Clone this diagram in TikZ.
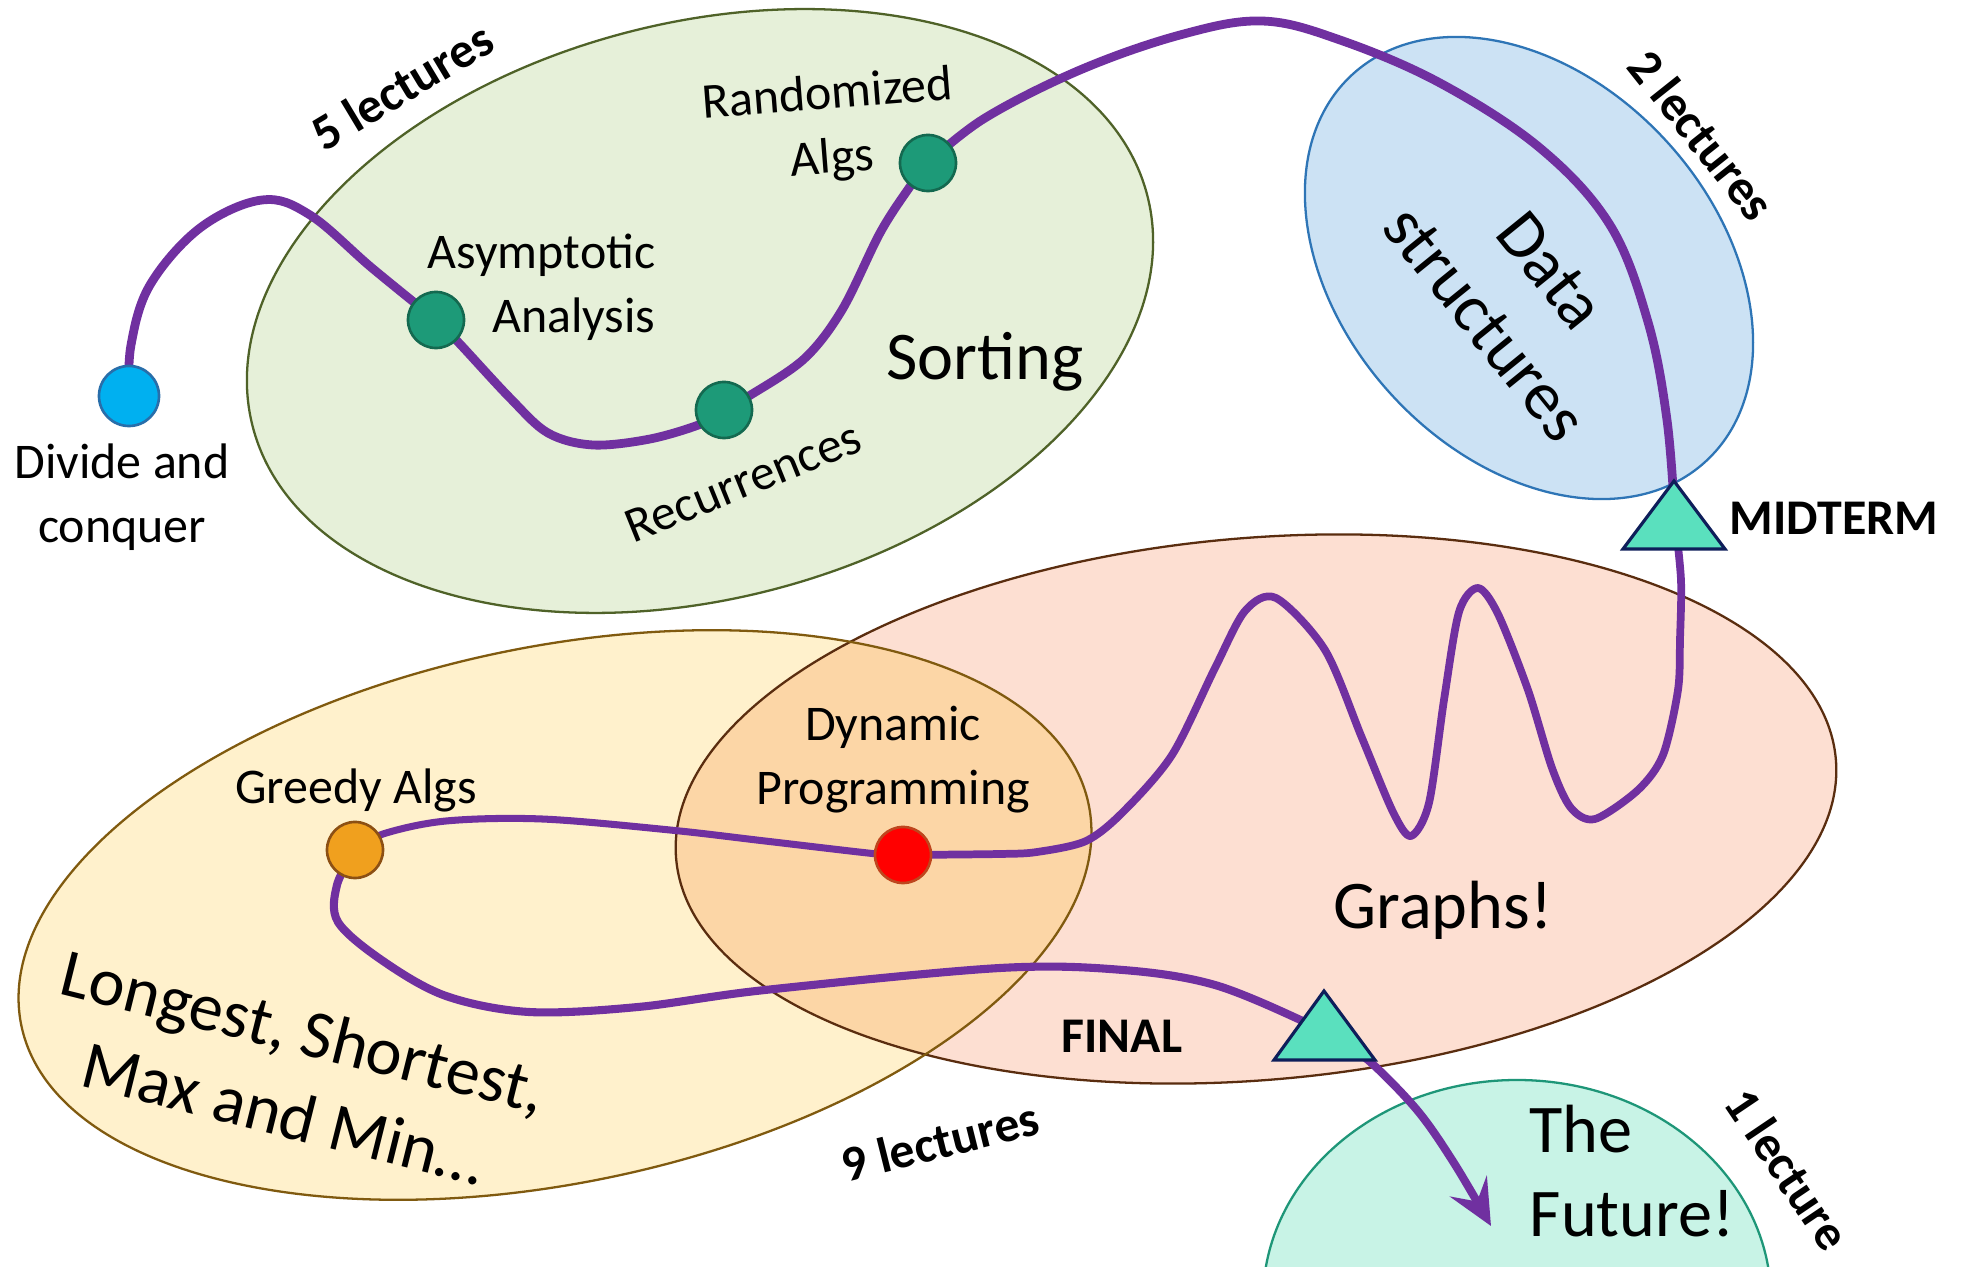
\documentclass[tikz,border=0pt]{standalone}
\usepackage{fontspec}
\setmainfont{Carlito}
\usetikzlibrary{arrows.meta}
\pgfdeclarelayer{bg}
\pgfdeclarelayer{paths}
\pgfsetlayers{bg,paths,main}
\definecolor{pur}{RGB}{112,48,160}
\definecolor{sortF}{RGB}{230,240,217}
\definecolor{sortD}{RGB}{79,98,40}
\definecolor{dsF}{RGB}{204,226,244}
\definecolor{dsD}{RGB}{46,117,182}
\definecolor{grF}{RGB}{253,223,210}
\definecolor{grD}{RGB}{90,45,15}
\definecolor{ylF}{RGB}{255,241,204}
\definecolor{ylD}{RGB}{128,90,15}
\definecolor{ovF}{RGB}{252,214,166}
\definecolor{fuF}{RGB}{200,243,230}
\definecolor{fuD}{RGB}{30,150,120}
\definecolor{dBlue}{RGB}{0,176,240}
\definecolor{dBlueD}{RGB}{40,110,170}
\definecolor{dGreen}{RGB}{29,154,120}
\definecolor{dGreenD}{RGB}{20,105,80}
\definecolor{dOrange}{RGB}{240,160,30}
\definecolor{dOrangeD}{RGB}{140,80,20}
\definecolor{dRed}{RGB}{255,0,0}
\definecolor{dRedD}{RGB}{190,70,30}
\definecolor{triF}{RGB}{90,224,190}
\definecolor{triD}{RGB}{14,30,90}
\begin{document}
\begin{tikzpicture}[x=0.01cm,y=-0.01cm,
  dotnode/.style={circle, inner sep=0pt, minimum size=0.56cm, line width=0.75pt},
  txt/.style={font=\fontsize{14.2}{18.2}\selectfont, inner sep=0pt, align=center},
  bigtxt/.style={font=\fontsize{19.4}{24}\selectfont, inner sep=0pt, align=center},
  lbl/.style={font=\fontsize{14.2}{17}\selectfont\bfseries, inner sep=0pt},
  road/.style={draw=pur, line width=2.5pt, line cap=round, line join=round},
  tri/.style={fill=triF, draw=triD, line width=0.9pt, line join=miter},
  region/.style={line width=0.65pt}
]
\useasboundingbox (0,0) rectangle (1962,1267);

% ---------- regions ----------
\begin{pgfonlayer}{bg}
  \fill[white] (0,0) rectangle (1962,1267);
  \draw[region, fill=sortF, draw=sortD, rotate around={14.5:(700,311)}] (700,311) ellipse [x radius=462, y radius=288];
  \draw[region, fill=dsF, draw=dsD, rotate around={-47.7:(1529,268)}] (1529,268) ellipse [x radius=262, y radius=187];
  \fill[grF, rotate around={4.9:(1256,809)}] (1256,809) ellipse [x radius=582, y radius=271];
  \fill[ylF, rotate around={11.7:(555,915)}] (555,915) ellipse [x radius=545, y radius=268];
  \begin{scope}
    \clip[rotate around={11.7:(555,915)}] (555,915) ellipse [x radius=545, y radius=268];
    \fill[ovF, rotate around={4.9:(1256,809)}] (1256,809) ellipse [x radius=582, y radius=271];
  \end{scope}
  \draw[region, draw=grD, rotate around={4.9:(1256,809)}] (1256,809) ellipse [x radius=582, y radius=271];
  \draw[region, draw=ylD, rotate around={11.7:(555,915)}] (555,915) ellipse [x radius=545, y radius=268];
  \draw[region, fill=fuF, draw=fuD] (1517,1300) ellipse [x radius=254, y radius=220];
\end{pgfonlayer}

% ---------- topic nodes ----------
\node[dotnode, minimum size=0.6cm, fill=dBlue, draw=dBlueD] (dc) at (129,396) {};
\node[dotnode, fill=dGreen, draw=dGreenD] (asym) at (436,320) {};
\node[dotnode, fill=dGreen, draw=dGreenD] (rec) at (724,410) {};
\node[dotnode, fill=dGreen, draw=dGreenD] (rand) at (928,163) {};
\node[dotnode, fill=dOrange, draw=dOrangeD] (greedy) at (355,850) {};
\node[dotnode, fill=dRed, draw=dRedD] (dp) at (903,855) {};
\coordinate (mt) at (1675,520);
\coordinate (fin) at (1335,1040);
\coordinate (fut) at (1491,1226);

% ---------- the road ----------
\begin{pgfonlayer}{paths}
  \draw[road] plot[smooth, tension=0.6] coordinates {(dc) (131,345) (150,285) (200,228) (262,200) (310,215) (372,268) (asym)};
  \draw[road] plot[smooth, tension=0.55] coordinates {(asym) (459,343) (510,398) (548,433) (593,445) (650,439) (701,424) (rec)};
  \draw[road] plot[smooth, tension=0.55] coordinates {(rec) (749,396) (804,359) (842,310) (880,233) (909,188) (rand)};
  \draw[road] plot[smooth, tension=0.6] coordinates {(rand) (985,118) (1080,70) (1180,35) (1262,21) (1340,40) (1440,83) (1540,148) (1610,225) (1648,322) (1667,420) (mt)};
  \draw[road, line width=2.2pt] plot[smooth, tension=0.5] coordinates {(mt) (1681,580) (1680,640) (1678,690) (1663,755) (1638,790) (1595,819) (1571,808) (1552,768) (1528,690) (1498,614) (1478,588) (1459,612) (1444,700) (1429,803) (1411,836) (1393,812) (1362,738) (1325,650) (1276,598) (1245,611) (1215,668) (1172,755) (1123,812) (1086,841) (1037,852) (1000,854) (dp)};
  \draw[road, line width=2pt] plot[smooth, tension=0.55] coordinates {(dp) (877,854) (765,841) (670,830) (542,819) (446,821) (383,834) (greedy)};
  \draw[road, line width=2.3pt, -{Stealth[length=13pt, width=12pt, inset=5pt]}] plot[smooth, tension=0.55] coordinates {(greedy) (337,885) (338,922) (383,961) (446,996) (529,1012) (638,1007) (765,990) (1000,968) (1123,970) (1215,985) (1307,1023) (fin) (1368,1060) (1417,1110) (1454,1163) (fut)};
\end{pgfonlayer}

% ---------- exams ----------
\draw[tri] (1674,481) -- (1725,549) -- (1623,549) -- cycle;
\draw[tri] (1324,991) -- (1375,1060) -- (1274,1060) -- cycle;

% ---------- texts ----------
\node[txt] (tdc) at (122,497) {Divide and\\conquer};
\node[txt, align=right, anchor=east] (tasym) at (656,287) {Asymptotic\\Analysis};
\node[txt, rotate=4.5] (trand) at (830,128) {Randomized\\Algs};
\node[txt, rotate=22] (trec) at (743,482) {Recurrences};
\node[bigtxt] (tsort) at (985,362) {Sorting};
\node[bigtxt, rotate=-51] (tds) at (1518,297) {Data\\structures};
\node[txt] (tgreedy) at (356,790) {Greedy Algs};
\node[txt] (tdp) at (893,760) {Dynamic\\Programming};
\node[bigtxt] (tgraph) at (1443,910) {Graphs!};
\node[bigtxt, rotate=-14] (tlong) at (294,1072) {Longest, Shortest,\\Max and Min…};
\node[bigtxt, align=left, anchor=west] (tfut) at (1529,1171) {The\\Future!};

\node[lbl, rotate=31] (l5) at (402,86) {5 lectures};
\node[lbl, rotate=-51.5] (l2) at (1702,135) {2 lectures};
\node[lbl, rotate=14] (l9) at (940,1141) {9 lectures};
\node[lbl, rotate=-56] (l1) at (1788,1169) {1 lecture};
\node[lbl, anchor=west] (lmid) at (1729,518) {MIDTERM};
\node[lbl, anchor=west] (lfin) at (1061,1036) {FINAL};
\end{tikzpicture}
\end{document}
